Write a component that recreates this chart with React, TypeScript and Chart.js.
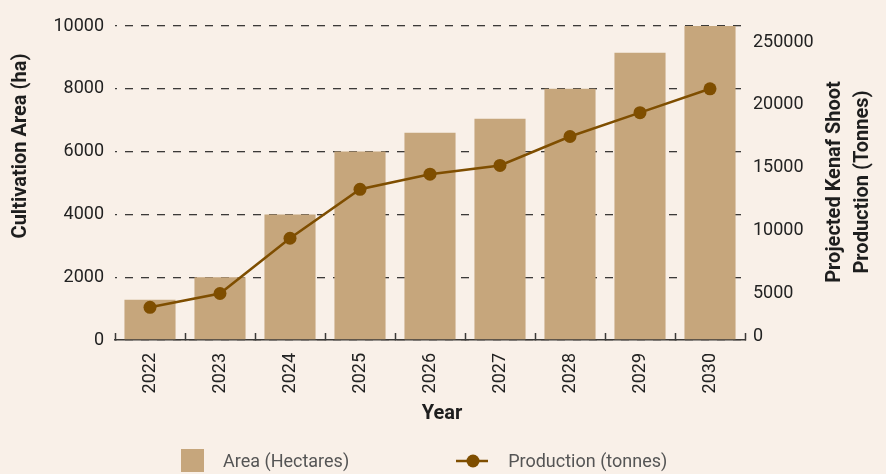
import React, { useEffect, useRef } from "react";
import { Chart, registerables } from "chart.js";

Chart.register(...registerables);

// ---- data ----
const YEARS = ["2022", "2023", "2024", "2025", "2026", "2027", "2028", "2029", "2030"];
const AREA_HA = [1280, 2000, 4000, 6000, 6600, 7050, 8000, 9150, 10000];
const PRODUCTION_T = [2600, 3700, 8100, 12000, 13200, 13900, 16200, 18100, 20000];
const LEFT_TICK_STEP = 2000;
const RIGHT_TICKS = [0, 5000, 10000, 15000, 20000, 25000];
const RIGHT_TICK_LABELS = ["0", "5000", "10000", "15000", "20000", "250000"];
const LEFT_TITLE = "Cultivation Area (ha)";
const RIGHT_TITLE = ["Projected Kenaf Shoot", "Production (Tonnes)"];
const X_TITLE = "Year";
const AREA_LABEL = "Area (Hectares)";
const PROD_LABEL = "Production (tonnes)";

// ---- styles ----
const BG = "#F9F0E8";
const BAR_COLOR = "#C6A67C";
const LINE_COLOR = "#7F4E00";
const GRID_COLOR = "#3C3A38";
const TICK_COLOR = "#222222";
const TITLE_COLOR = "#1E1E1E";
const LEGEND_TEXT = "#555555";
const FONT = "Roboto";

const textPlugin = {
  id: "customText",
  afterDraw(chart: any) {
    const { ctx, chartArea, scales } = chart;
    const y1 = scales.y1;
    ctx.save();
    // right tick labels
    ctx.font = `18px ${FONT}`;
    ctx.fillStyle = TICK_COLOR;
    ctx.textAlign = "left";
    ctx.textBaseline = "middle";
    RIGHT_TICKS.forEach((v, i) => {
      const y = y1.getPixelForValue(v) + (v === 0 ? -4 : 16);
      ctx.fillText(RIGHT_TICK_LABELS[i], y1.left + 8, y);
    });
    const midY = (chartArea.top + chartArea.bottom) / 2;
    ctx.font = `bold 20px ${FONT}`;
    ctx.fillStyle = TITLE_COLOR;
    ctx.textAlign = "center";
    // left title
    ctx.save();
    ctx.translate(21, midY - 37);
    ctx.rotate(-Math.PI / 2);
    ctx.fillText(LEFT_TITLE, 0, 0);
    ctx.restore();
    // right title
    ctx.save();
    ctx.translate(y1.left + 104, midY - 1);
    ctx.rotate(-Math.PI / 2);
    ctx.fillText(RIGHT_TITLE[0], 0, -14);
    ctx.fillText(RIGHT_TITLE[1], 0, 14);
    ctx.restore();
    // x title
    ctx.fillText(X_TITLE, (chartArea.left + chartArea.right) / 2 + 12, 414);
    ctx.restore();
  },
};

export default function App() {
  const ref = useRef<HTMLCanvasElement | null>(null);

  useEffect(() => {
    document.body.style.margin = "0";
    document.body.style.background = BG;
    if (!ref.current) return;
    const chart = new Chart(ref.current, {
      data: {
        labels: YEARS,
        datasets: [
          {
            type: "line",
            label: PROD_LABEL,
            data: PRODUCTION_T,
            yAxisID: "y1",
            borderColor: LINE_COLOR,
            backgroundColor: LINE_COLOR,
            borderWidth: 2.5,
            pointRadius: 6.5,
            pointBackgroundColor: LINE_COLOR,
            pointBorderColor: LINE_COLOR,
            pointBorderWidth: 0,
            tension: 0,
            order: 0,
          },
          {
            type: "bar",
            label: AREA_LABEL,
            data: AREA_HA,
            yAxisID: "y",
            backgroundColor: BAR_COLOR,
            borderWidth: 0,
            categoryPercentage: 1,
            barPercentage: 0.73,
            order: 1,
          },
        ],
      } as any,
      options: {
        responsive: false,
        animation: false,
        layout: { padding: { top: 26, left: 0, right: 0, bottom: 0 } },
        plugins: { legend: { display: false }, tooltip: { enabled: false } },
        scales: {
          x: {
            grid: {
              display: true,
              drawOnChartArea: false,
              drawTicks: true,
              tickLength: -7,
              tickColor: GRID_COLOR,
              tickWidth: 1.5,
              offset: true,
            },
            border: { display: true, color: GRID_COLOR, width: 1.5 },
            ticks: {
              minRotation: 90,
              maxRotation: 90,
              padding: 20,
              color: TICK_COLOR,
              font: { family: FONT, size: 18 },
            },
            afterFit: (s: any) => {
              s.height = 134;
            },
          },
          y: {
            position: "left",
            min: 0,
            max: 10000,
            ticks: {
              stepSize: LEFT_TICK_STEP,
              padding: 11,
              color: TICK_COLOR,
              font: { family: FONT, size: 18 },
              callback: (v: any) => String(v),
            },
            grid: { color: GRID_COLOR, lineWidth: 1.3, drawTicks: false },
            border: { display: false, dash: [8, 8], dashOffset: 6 },
            afterFit: (s: any) => {
              s.width = 115;
            },
          },
          y1: {
            position: "right",
            min: 0,
            max: 25000,
            ticks: { display: false },
            grid: { display: false, drawOnChartArea: false },
            border: { display: false },
            afterFit: (s: any) => {
              s.width = 141;
            },
          },
        },
      } as any,
      plugins: [textPlugin],
    });
    return () => chart.destroy();
  }, []);

  return (
    <div style={{ position: "relative", width: 886, height: 474, background: BG, overflow: "hidden" }}>
      <canvas ref={ref} width={886} height={474} style={{ position: "absolute", left: 0, top: 0 }} />
      <div
        style={{
          position: "absolute",
          left: 181,
          top: 449,
          height: 23,
          display: "flex",
          alignItems: "center",
          fontFamily: FONT,
          fontSize: 18,
          color: LEGEND_TEXT,
          whiteSpace: "nowrap",
        }}
      >
        <div style={{ width: 23, height: 23, background: BAR_COLOR }} />
        <span style={{ marginLeft: 19, lineHeight: "23px" }}>{AREA_LABEL}</span>
        <svg width={32} height={23} style={{ marginLeft: 107 }}>
          <line x1={0} y1={12} x2={32} y2={12} stroke={LINE_COLOR} strokeWidth={2.5} />
          <circle cx={17} cy={12} r={6.5} fill={LINE_COLOR} />
        </svg>
        <span style={{ marginLeft: 20, lineHeight: "23px" }}>{PROD_LABEL}</span>
      </div>
    </div>
  );
}
